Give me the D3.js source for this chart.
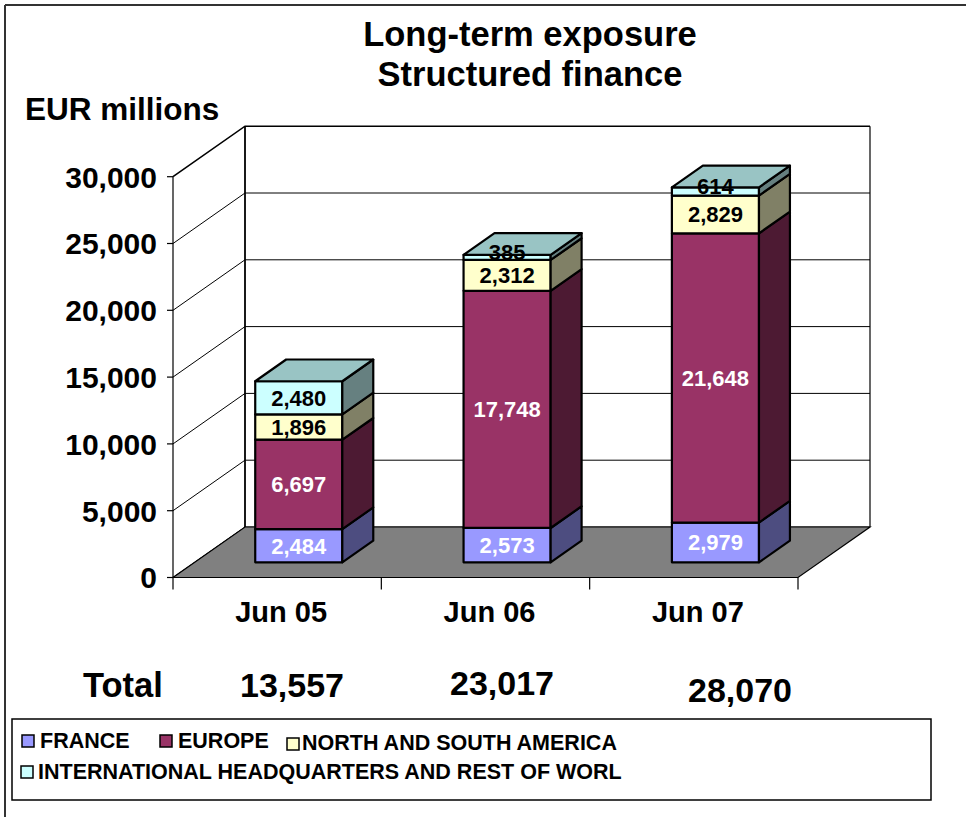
<!DOCTYPE html>
<html>
<head>
<meta charset="utf-8">
<script src="https://cdn.jsdelivr.net/npm/d3@7"></script>
<style>
  html, body { margin: 0; padding: 0; background: #fff; }
  svg { display: block; font-family: Arial, "Liberation Sans", sans-serif; font-weight: bold; }
</style>
</head>
<body>
<svg id="chart" width="966" height="817"></svg>
<script>
// Long-term exposure, structured finance (EUR millions)
const categories = ["Jun 05", "Jun 06", "Jun 07"];
const france   = [2484, 2573, 2979];
const europe   = [6697, 17748, 21648];
const americas = [1896, 2312, 2829];
const intl     = [2480, 385, 614];
const totals   = [13557, 23017, 28070];
const yTicks   = [0, 5000, 10000, 15000, 20000, 25000, 30000];
const seriesNames = ["FRANCE", "EUROPE", "NORTH AND SOUTH AMERICA",
                     "INTERNATIONAL HEADQUARTERS AND REST OF WORL"];

// Face colours: front / side / top for each series
const palette = [
  { front: "#9999ff", side: "#4d4d80", top: "#7373bf", label: "#ffffff" },
  { front: "#993366", side: "#4d1a33", top: "#73264c", label: "#ffffff" },
  { front: "#ffffcc", side: "#808066", top: "#bfbf99", label: "#000000" },
  { front: "#ccffff", side: "#668080", top: "#99c4c4", label: "#000000" }
];

const svg = d3.select("#chart");
const fmt = d3.format(",");

// 3D frame geometry
const x0 = 173, x1 = 798, yBase = 577.5;
const dX = 72, dY = -50.5;          // full depth offset of the plot box
const fFront = 0.30, fBack = 0.73;  // bar depth range as a fraction of full depth

const h = d3.scaleLinear().domain([0, 30000]).range([0, 400.8]);
const band = d3.scaleBand().domain(categories).range([x0, x1])
  .paddingInner(0.582).paddingOuter(0.291);
const cat = d3.scaleBand().domain(categories).range([x0, x1]);

// outer frame
svg.append("line").attr("x1", 5).attr("y1", 5).attr("x2", 966).attr("y2", 5)
  .attr("stroke", "#333").attr("stroke-width", 2);
svg.append("line").attr("x1", 5).attr("y1", 5).attr("x2", 5).attr("y2", 817)
  .attr("stroke", "#333").attr("stroke-width", 2);

// title
const title = svg.append("text").attr("text-anchor", "middle").attr("font-size", 34.5);
title.append("tspan").attr("x", 530).attr("y", 46).text("Long-term exposure");
title.append("tspan").attr("x", 530).attr("y", 86).text("Structured finance");

svg.append("text").attr("x", 25).attr("y", 120).attr("font-size", 31.5).text("EUR millions");

// back wall
const backTop = yBase + dY - h(30000);
svg.append("rect").attr("x", x0 + dX).attr("y", backTop)
  .attr("width", x1 - x0).attr("height", h(30000)).attr("fill", "#fff");

// gridlines across the side wall and back wall
const grid = svg.append("g").attr("stroke", "#000").attr("fill", "none");
yTicks.forEach(v => {
  const yf = yBase - h(v);
  grid.append("polyline")
    .attr("points", [[x0, yf], [x0 + dX, yf + dY], [x1 + dX, yf + dY]].map(p => p.join(",")).join(" "))
    .attr("stroke-width", v === 30000 ? 1.6 : 1);
});
grid.append("line").attr("x1", x0 + dX).attr("y1", backTop).attr("x2", x0 + dX).attr("y2", yBase + dY)
  .attr("stroke-width", 1.8);
grid.append("line").attr("x1", x1 + dX).attr("y1", backTop).attr("x2", x1 + dX).attr("y2", yBase + dY)
  .attr("stroke-width", 1.2);

// floor
svg.append("polygon")
  .attr("points", [[x0, yBase], [x1, yBase], [x1 + dX, yBase + dY], [x0 + dX, yBase + dY]].map(p => p.join(",")).join(" "))
  .attr("fill", "#808080").attr("stroke", "#000").attr("stroke-width", 1.2);

// value axis
svg.append("line").attr("x1", x0).attr("y1", yBase).attr("x2", x0).attr("y2", yBase - h(30000))
  .attr("stroke", "#000").attr("stroke-width", 1.2);
const yAxis = svg.append("g");
yTicks.forEach(v => {
  const yy = yBase - h(v);
  yAxis.append("line").attr("x1", x0 - 6).attr("x2", x0).attr("y1", yy).attr("y2", yy)
    .attr("stroke", "#000").attr("stroke-width", 1.2);
  yAxis.append("text").attr("x", 157).attr("y", yy).attr("dy", "0.36em")
    .attr("text-anchor", "end").attr("font-size", 30).text(fmt(v));
});

// category axis ticks and labels
const boundaries = categories.map(c => cat(c)).concat([x1]);
boundaries.forEach(bx => {
  svg.append("line").attr("x1", bx).attr("x2", bx).attr("y1", yBase).attr("y2", yBase + 12)
    .attr("stroke", "#000").attr("stroke-width", 1.2);
});
categories.forEach(c => {
  svg.append("text").attr("x", cat(c) + cat.bandwidth() / 2 + 4).attr("y", 622)
    .attr("text-anchor", "middle").attr("font-size", 29).text(c);
});

// stacked 3D bars
const series = [france, europe, americas, intl];
const stack = categories.map((c, i) => {
  let acc = 0;
  return series.map((s, k) => {
    const seg = { cat: c, k, v: s[i], y0: acc, y1: acc + s[i] };
    acc += s[i];
    return seg;
  });
});

const fx = fFront * dX, fy = fFront * dY;
const depthX = (fBack - fFront) * dX, depthY = (fBack - fFront) * dY;
const pts = a => a.map(p => p.join(",")).join(" ");

stack.forEach(segs => {
  const g = svg.append("g");
  const left = band(segs[0].cat) + fx;
  const right = left + band.bandwidth();
  const base = yBase + fy;
  segs.forEach(s => {
    const yb = base - h(s.y0), yt = base - h(s.y1);
    const c = palette[s.k];
    g.append("polygon").attr("points", pts([[left, yb], [right, yb], [right, yt], [left, yt]]))
      .attr("fill", c.front).attr("stroke", "#000").attr("stroke-width", 2.2).attr("stroke-linejoin", "round");
    g.append("polygon").attr("points", pts([[right, yb], [right + depthX, yb + depthY], [right + depthX, yt + depthY], [right, yt]]))
      .attr("fill", c.side).attr("stroke", "#000").attr("stroke-width", 2.2).attr("stroke-linejoin", "round");
  });
  const last = segs[segs.length - 1];
  const yTop = base - h(last.y1);
  g.append("polygon").attr("points", pts([[left, yTop], [right, yTop], [right + depthX, yTop + depthY], [left + depthX, yTop + depthY]]))
    .attr("fill", palette[last.k].top).attr("stroke", "#000").attr("stroke-width", 2.2).attr("stroke-linejoin", "round");
  // value labels, nudged upward on thin segments so they stay readable
  segs.forEach(s => {
    const yb = base - h(s.y0), yt = base - h(s.y1);
    const thin = (yb - yt) < 20 ? -5 : 0;
    g.append("text").attr("x", (left + right) / 2).attr("y", (yb + yt) / 2 + thin).attr("dy", "0.36em")
      .attr("text-anchor", "middle").attr("font-size", 22).attr("fill", palette[s.k].label)
      .text(fmt(s.v));
  });
});

// totals row
svg.append("text").attr("x", 83).attr("y", 697).attr("font-size", 34.5).text("Total");
const totalPos = [[292, 697], [502, 695], [740, 702]];
totals.forEach((t, i) => {
  svg.append("text").attr("x", totalPos[i][0]).attr("y", totalPos[i][1])
    .attr("text-anchor", "middle").attr("font-size", 34).text(fmt(t));
});

// legend
svg.append("rect").attr("x", 12).attr("y", 719).attr("width", 919).attr("height", 81)
  .attr("fill", "#fff").attr("stroke", "#000").attr("stroke-width", 1.5);
const legendPos = [[22, 735, 40, 748], [160, 735, 178, 748], [287, 738, 302, 750], [21, 766, 38, 779]];
seriesNames.forEach((name, k) => {
  const [mx, my, tx, ty] = legendPos[k];
  svg.append("rect").attr("x", mx).attr("y", my).attr("width", 12).attr("height", 12)
    .attr("fill", palette[k].front).attr("stroke", "#000").attr("stroke-width", 1.5);
  svg.append("text").attr("x", tx).attr("y", ty).attr("font-size", 21.5).text(name);
});
</script>
</body>
</html>
